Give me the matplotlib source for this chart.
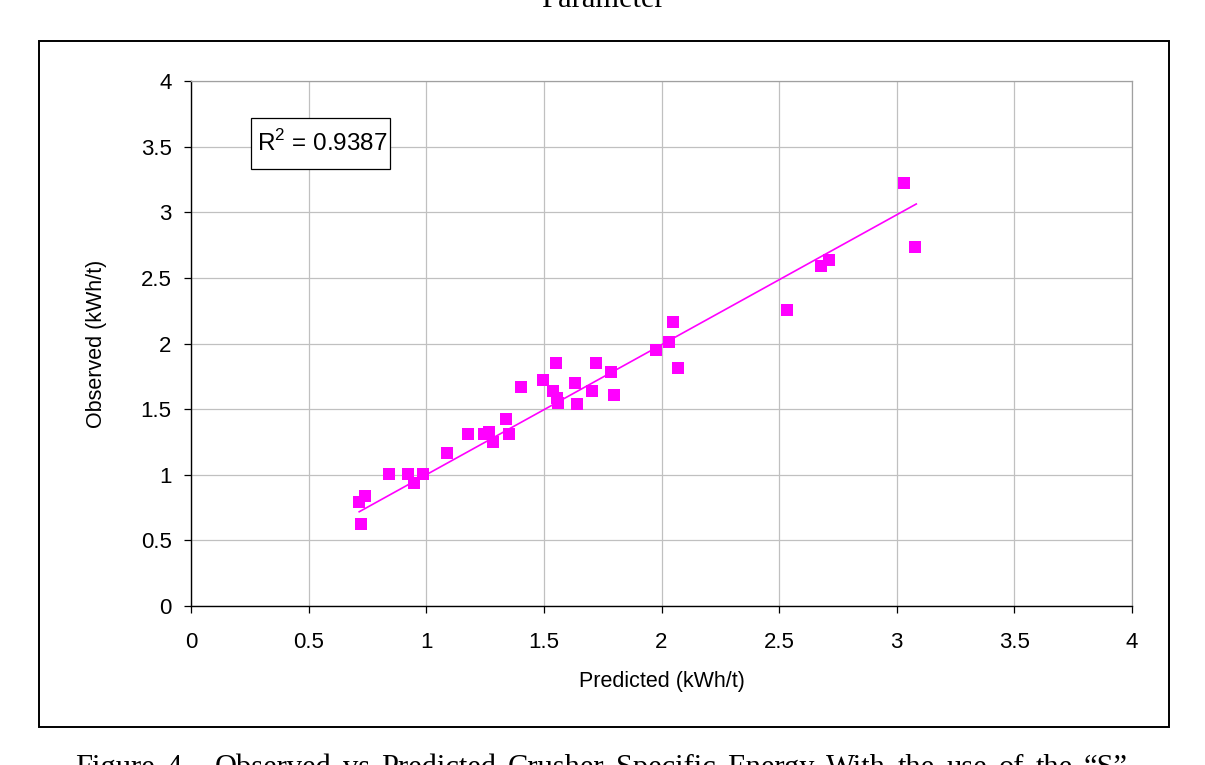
import numpy as np
import matplotlib
matplotlib.use("Agg")
import matplotlib.pyplot as plt
from matplotlib.patches import Rectangle

predicted = [0.715, 0.74, 0.723, 0.843, 0.924, 0.947, 0.988, 1.09, 1.177, 1.247,
             1.268, 1.282, 1.338, 1.353, 1.401, 1.498, 1.537, 1.553, 1.554, 1.561,
             1.634, 1.641, 1.706, 1.72, 1.785, 1.80, 1.977, 2.033, 2.049, 2.072,
             2.535, 2.678, 2.712, 3.03, 3.079]
observed = [0.795, 0.838, 0.622, 1.008, 1.008, 0.94, 1.008, 1.168, 1.308, 1.308,
            1.328, 1.25, 1.422, 1.308, 1.666, 1.724, 1.638, 1.851, 1.582, 1.549,
            1.697, 1.537, 1.638, 1.851, 1.78, 1.61, 1.953, 2.011, 2.166, 1.811,
            2.253, 2.593, 2.639, 3.226, 2.738]
trend_x = [0.715, 3.083]
trend_y = [0.718, 3.063]
ticks = [0, 0.5, 1, 1.5, 2, 2.5, 3, 3.5, 4]
tick_labels = ["0", "0.5", "1", "1.5", "2", "2.5", "3", "3.5", "4"]
r2_text = "R$^2$ = 0.9387"
x_label = "Predicted (kWh/t)"
y_label = "Observed (kWh/t)"
top_text = "Parameter"
caption = "Figure 4 - Observed vs Predicted Crusher Specific Energy With the use of the \u201cS\u201d"

W, H = 1205, 765
plt.rcParams['font.family'] = ['Liberation Sans', 'DejaVu Sans']
plt.rcParams['mathtext.fontset'] = 'custom'
plt.rcParams['mathtext.rm'] = 'Liberation Sans'
fig = plt.figure(figsize=(W / 100, H / 100), dpi=100)


def fx(px):
    return px / W


def fy(py):
    return 1 - py / H


# outer frame
fig.patches.append(Rectangle((fx(39), fy(727)), (1169 - 39) / W, (727 - 41) / H,
                             transform=fig.transFigure, fill=False, edgecolor='black',
                             linewidth=1.4, zorder=0))

ax = fig.add_axes([fx(191), fy(606), (1132 - 191) / W, (606 - 81) / H])
ax.set_xlim(0, 4)
ax.set_ylim(0, 4)
ax.set_xticks(ticks)
ax.set_yticks(ticks)
ax.set_xticklabels(tick_labels)
ax.set_yticklabels(tick_labels)
ax.grid(True, color='#c0c0c0', linewidth=0.9)
ax.set_axisbelow(True)
for s in ['top', 'right']:
    ax.spines[s].set_color('#a0a0a0')
    ax.spines[s].set_linewidth(0.9)
for s in ['left', 'bottom']:
    ax.spines[s].set_color('black')
    ax.spines[s].set_linewidth(1.0)
ax.tick_params(direction='out', length=5, width=0.9, labelsize=16, color='black')
ax.tick_params(axis='x', pad=14)
ax.tick_params(axis='y', pad=9)

ax.plot(predicted, observed, linestyle='none', marker='s', markersize=8.0,
        color='#ff00ff', markeredgewidth=0, zorder=3)
ax.plot(trend_x, trend_y, color='#ff00ff', linewidth=1.2, zorder=2)

ax.set_xlabel(x_label, fontsize=15.5, labelpad=13)
ax.set_ylabel(y_label, fontsize=15.5, labelpad=24)

# R^2 box
fig.patches.append(Rectangle((fx(251), fy(169)), (390 - 251) / W, (169 - 118) / H,
                             transform=fig.transFigure, facecolor='white',
                             edgecolor='black', linewidth=0.9, zorder=5))
fig.text(fx(322), fy(143), r2_text, fontsize=17.5, ha='center', va='center', zorder=6)

fig.text(fx(603), fy(7), top_text, fontsize=22, ha='center', va='baseline',
         family='Liberation Serif')

# justified caption
words = caption.split(' ')
renderer = fig.canvas.get_renderer()
texts = []
widths = []
for w in words:
    t = fig.text(0, fy(776), w, fontsize=22, ha='left', va='baseline',
                 family='Liberation Serif')
    bb = t.get_window_extent(renderer=renderer)
    texts.append(t)
    widths.append(bb.width)
left_px, right_px = 75, 1128
gap = (right_px - left_px - sum(widths)) / (len(words) - 1)
pos = left_px
for t, wd in zip(texts, widths):
    t.set_x(fx(pos))
    pos += wd + gap

fig.savefig("out.png", dpi=100)
